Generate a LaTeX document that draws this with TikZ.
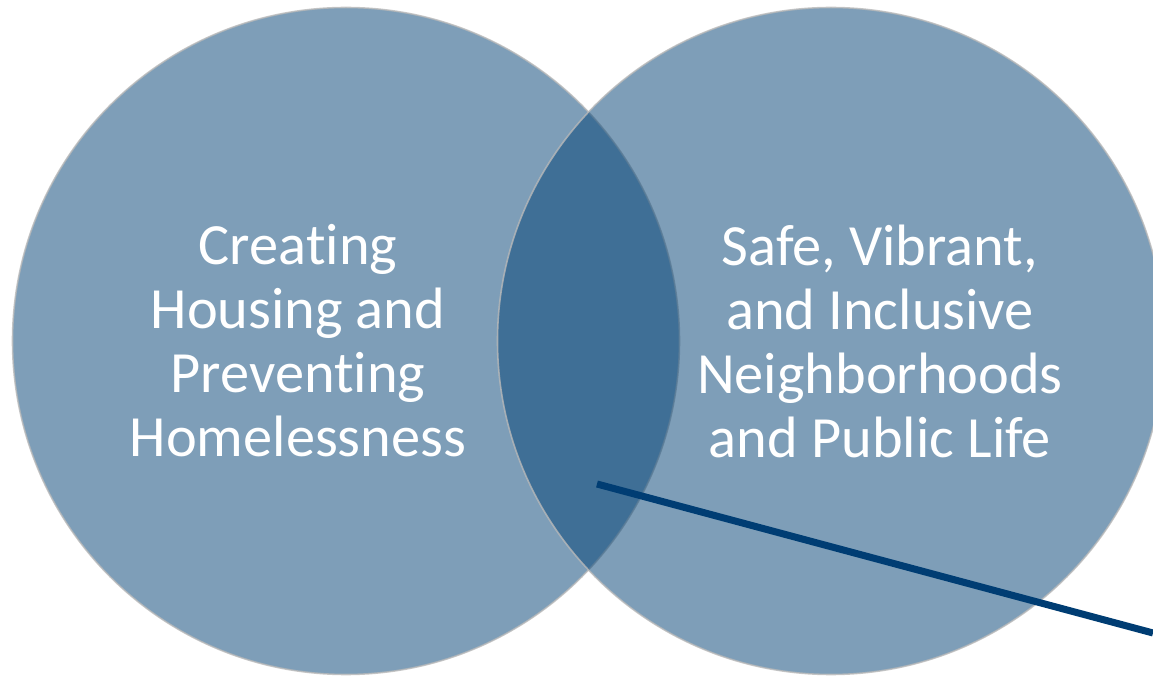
\documentclass[tikz,border=0pt]{standalone}
\usepackage{fontspec}
\setmainfont{Carlito}[Ligatures=NoCommon]
\usepackage{xcolor}
\usepackage{tikz}
\usetikzlibrary{positioning}

\definecolor{vennblue}{RGB}{7,69,119}
\definecolor{linknavy}{RGB}{0,61,115}

\begin{document}
\begin{tikzpicture}[
  x=0.01cm, y=-0.01cm,
  ring/.style={circle, fill=vennblue, fill opacity=0.52, draw=gray!55, draw opacity=0.8, line width=0.45pt, minimum size=667*0.01cm, inner sep=0pt},
  label/.style={text=white, align=center, font=\fontsize{16.6}{18.2}\selectfont},
  link/.style={linknavy, line width=2pt}
]
  \useasboundingbox (0,0) rectangle (1153,676);

  % Two overlapping sets
  \node[ring] (housing) at (346,341) {};
  \node[ring] (neighborhoods) at (831,341) {};

  % Set titles
  \node[label] (housingtxt) at (298,341) {Creating\\Housing and\\Preventing\\Homelessness};
  \node[label] (neighborhoodstxt) at (880,341) {Safe, Vibrant,\\and Inclusive\\Neighborhoods\\and Public Life};

  % Pointer out of the overlap
  \coordinate (overlap) at (597,484);
  \coordinate (callout) at (1153,633);
  \draw[link] (overlap) -- (callout);
\end{tikzpicture}
\end{document}
